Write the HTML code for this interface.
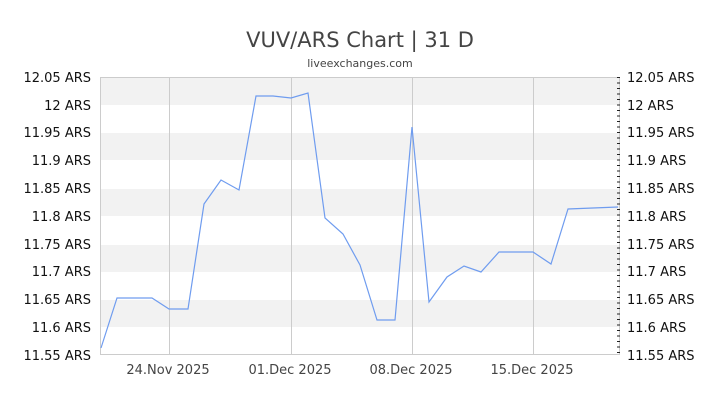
<!DOCTYPE html>
<html><head><style>body{margin:0;background:#fff}svg{display:block}text{font-family:"DejaVu Sans","Liberation Sans",sans-serif}</style></head><body>
<svg width="720" height="405" viewBox="0 0 720 405" xmlns="http://www.w3.org/2000/svg">
<text x="360" y="47" font-size="21" fill="#444" text-anchor="middle">VUV/ARS Chart | 31 D</text>
<text x="360" y="67" font-size="11" fill="#444" text-anchor="middle">liveexchanges.com</text>
<g fill="#f2f2f2">
<rect x="100" y="77" width="520" height="28"/><rect x="100" y="133" width="520" height="27"/><rect x="100" y="189" width="520" height="27"/><rect x="100" y="245" width="520" height="27"/><rect x="100" y="300" width="520" height="27"/>
</g>
<g stroke="#ccc" stroke-width="1">
<line x1="169.5" y1="77" x2="169.5" y2="355"/><line x1="291.5" y1="77" x2="291.5" y2="355"/><line x1="412.5" y1="77" x2="412.5" y2="355"/><line x1="533.5" y1="77" x2="533.5" y2="355"/>
<rect x="100.5" y="77.5" width="519" height="277" fill="none"/>
</g>
<polyline fill="none" stroke="#6f9cef" stroke-width="1.2" points="101,348 117,298 152,298 169,309 188,309 204,204 221,180 239,190 256,96 273,96 291,98 308,93 325,218 343,234 360,265 377,320 395,320 412,127 429,302 447,277 464,266 481,272 499,252 533,252 551,264 568,209 618,207"/>
<g font-size="13" fill="#111">
<g text-anchor="end">
<text x="91" y="82">12.05 ARS</text><text x="91" y="110">12 ARS</text><text x="91" y="137">11.95 ARS</text><text x="91" y="165">11.9 ARS</text><text x="91" y="193">11.85 ARS</text><text x="91" y="221">11.8 ARS</text><text x="91" y="249">11.75 ARS</text><text x="91" y="276">11.7 ARS</text><text x="91" y="304">11.65 ARS</text><text x="91" y="332">11.6 ARS</text><text x="91" y="360">11.55 ARS</text>
</g>
<text x="627" y="82">12.05 ARS</text><text x="627" y="110">12 ARS</text><text x="627" y="137">11.95 ARS</text><text x="627" y="165">11.9 ARS</text><text x="627" y="193">11.85 ARS</text><text x="627" y="221">11.8 ARS</text><text x="627" y="249">11.75 ARS</text><text x="627" y="276">11.7 ARS</text><text x="627" y="304">11.65 ARS</text><text x="627" y="332">11.6 ARS</text><text x="627" y="360">11.55 ARS</text>
</g>
<g font-size="13" fill="#444" text-anchor="middle">
<text x="168" y="374">24.Nov 2025</text><text x="290" y="374">01.Dec 2025</text><text x="411" y="374">08.Dec 2025</text><text x="532" y="374">15.Dec 2025</text>
</g>
<g stroke="#222" stroke-width="1">
<path d="M617 77.5h3M617 83h3M617 88.5h3M617 94h3M617 99.5h3M617 105h3M617 110.5h3M617 116h3M617 121.5h3M617 127h3M617 132.5h3M617 138h3M617 143.5h3M617 149h3M617 154.5h3M617 160h3M617 165.5h3M617 171h3M617 176.5h3M617 182h3M617 187.5h3M617 193h3M617 198.5h3M617 204h3M617 209.5h3M617 215h3M617 220.5h3M617 226h3M617 231.5h3M617 237h3M617 242.5h3M617 248h3M617 253.5h3M617 259h3M617 264.5h3M617 270h3M617 275.5h3M617 281h3M617 286.5h3M617 292h3M617 297.5h3M617 303h3M617 308.5h3M617 314h3M617 319.5h3M617 325h3M617 330.5h3M617 336h3M617 341.5h3M617 347h3M617 352.5h3"/>
</g>
</svg>
</body></html>
